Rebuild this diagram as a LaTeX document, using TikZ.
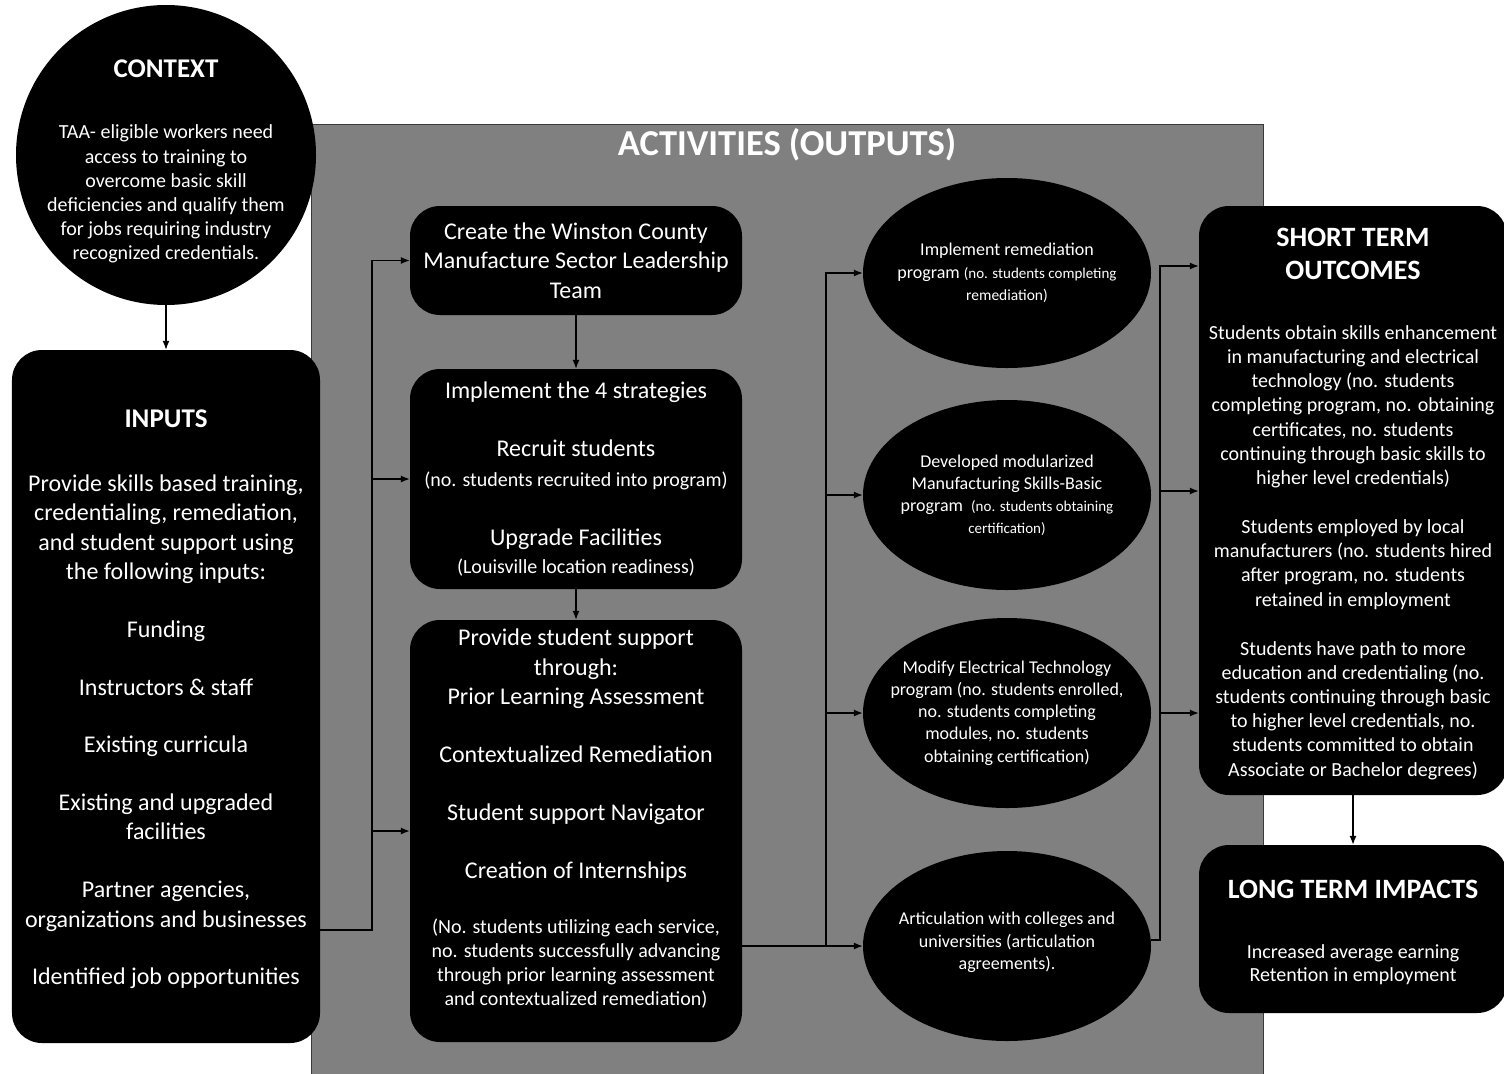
\documentclass[tikz,border=0pt]{standalone}
\usepackage{fontspec}
\setmainfont{Carlito}
\usetikzlibrary{shapes.geometric,arrows.meta,calc}
\definecolor{panelgray}{HTML}{808080}
\definecolor{paneledge}{HTML}{3A3A3A}
\newcommand{\myfs}[2]{\fontsize{#1bp}{#2bp}\selectfont}
\tikzset{
  blk/.style={rectangle, fill=black, text=white, rounded corners=30bp, align=center, inner sep=0pt},
  ell/.style={ellipse, fill=black, text=white, align=center, minimum width=288bp, minimum height=190bp, inner xsep=-25bp, inner ysep=0pt, font=\myfs{18}{22.2}},
  arr/.style={-{Latex[length=9bp,width=7bp]}, line width=1.3bp, draw=black},
}
\begin{document}
\begin{tikzpicture}[x=1bp,y=-1bp]
\fill[white] (0,0) rectangle (1504,1073);
\useasboundingbox (0,0) rectangle (1504,1073);
% activities panel
\filldraw[fill=panelgray, draw=paneledge, line width=1bp] (311,124) rectangle (1263,1100);
\node[font=\bfseries\myfs{36.5}{42}, text=white] (title) at (787,145) {ACTIVITIES (OUTPUTS)};

% context
\node[circle, fill=black, text=white, minimum size=300bp, inner sep=-20bp, align=center, font=\myfs{20}{24.2}] (ctx) at (166,155)
{\mbox{}\\[7.2bp]
{\bfseries\myfs{27}{32}CONTEXT}\\[36.8bp]
TAA- eligible workers need\\ access to training to\\ overcome basic skill\\ deficiencies and qualify them\\ for jobs requiring industry\\ recognized credentials.};

% inputs
\node[blk, minimum width=308bp, minimum height=693bp, font=\myfs{24}{29.3}] (inp) at (166,696.5)
{\mbox{}\\[-5.9bp]
{\bfseries\myfs{27}{32}INPUTS}\\[34.7bp]
Provide skills based training,\\ credentialing, remediation,\\ and student support using\\ the following inputs:\\[28.5bp]
Funding\\[28.5bp]
Instructors \& staff\\[28.5bp]
Existing curricula\\[28.5bp]
Existing and upgraded\\ facilities\\[28.5bp]
Partner agencies,\\ organizations and businesses\\[28.5bp]
Identified job opportunities};

% activities column 1
\node[blk, minimum width=332bp, minimum height=109bp, font=\myfs{24}{29.3}] (A) at (576,260.5)
{Create the Winston County\\ Manufacture Sector Leadership\\ Team};
\node[blk, minimum width=332bp, minimum height=220bp, font=\myfs{24}{29.3}] (B) at (576,479)
{Implement the 4 strategies\\[28.7bp]
Recruit students\\ {\myfs{20}{24}(no. students recruited into program)}\\[29.7bp]
Upgrade Facilities\\[-1.3bp] {\myfs{20}{24}(Louisville location readiness)}};
\node[blk, minimum width=332bp, minimum height=422bp, font=\myfs{24}{29.3}] (C) at (576,831)
{Provide student support\\ through:\\ Prior Learning Assessment\\[28.7bp]
Contextualized Remediation\\[28.7bp]
Student support Navigator\\[28.7bp]
Creation of Internships\\[25.7bp]
{\myfs{20}{24}(No. students utilizing each service,}\\[-5.3bp]
{\myfs{20}{24}no. students successfully advancing}\\[-5.3bp]
{\myfs{20}{24}through prior learning assessment}\\[-5.3bp]
{\myfs{20}{24}and contextualized remediation)}\\[-1.8bp]\mbox{}};

% activities column 2
\node[ell] (E1) at (1007,273)
{Implement remediation\\ program {\myfs{15}{18}(no. students completing}\\ {\myfs{15.5}{18}remediation)}};
\node[ell] (E2) at (1007,495)
{Developed modularized\\ Manufacturing Skills-Basic\\ program\ \ {\myfs{15}{18}(no. students obtaining}\\[-1bp] {\myfs{15}{18}certification)}};
\node[ell] (E3) at (1007,713)
{Modify Electrical Technology\\ program (no. students enrolled,\\ no. students completing\\ modules, no. students\\ obtaining certification)};
\node[ell] (E4) at (1007,946)
{Articulation with colleges and\\ universities (articulation\\ agreements).\\[-12bp]\mbox{}};

% outcomes
\node[blk, minimum width=308bp, minimum height=589bp, font=\myfs{20}{24.2}] (STO) at (1353,500.5)
{\mbox{}\\[0.8bp]
{\bfseries\myfs{28}{33}SHORT TERM}\\[8.8bp]
{\bfseries\myfs{28}{33}OUTCOMES}\\[35.8bp]
Students obtain skills enhancement\\ in manufacturing and electrical\\ technology (no. students\\ completing program, no. obtaining\\ certificates, no. students\\ continuing through basic skills to\\ higher level credentials)\\[24.8bp]
Students employed by local\\ manufacturers (no. students hired\\ after program, no. students\\ retained in employment\\[24.8bp]
Students have path to more\\ education and credentialing (no.\\ students continuing through basic\\ to higher level credentials, no.\\ students committed to obtain\\ Associate or Bachelor degrees)};
\node[blk, minimum width=308bp, minimum height=168bp, font=\myfs{20}{24.2}] (LTI) at (1353,929)
{\mbox{}\\[0.8bp]
{\bfseries\myfs{28}{33}LONG TERM IMPACTS}\\[35.8bp]
Increased average earning\\[-1.2bp] Retention in employment};

% connectors
\coordinate (j1) at (372,930);
\coordinate (j2) at (826,946);
\coordinate (k1) at (1160,266);
\coordinate (k2) at (1160,491);
\coordinate (k3) at (1160,713);
\coordinate (k4) at (1160,940);
\draw[arr] (ctx.south) -- (inp.north);
\draw[arr] (inp.east |- j1) -- (j1) |- (A.west);
\draw[arr] (j1 |- B.west) -- (B.west);
\draw[arr] (j1 |- C.west) -- (C.west);
\draw[arr] (A.south) -- (B.north);
\draw[arr] (B.south) -- (C.north);
\draw[arr] (C.east |- j2) -- (E4.west);
\draw[arr] (j2) |- (E1.west);
\draw[arr] (j2 |- E2.west) -- (E2.west);
\draw[arr] (j2 |- E3.west) -- (E3.west);
\draw[arr] (E4.east |- k4) -- (k4) |- (STO.west |- k1);
\draw[arr] (k2) -- (STO.west |- k2);
\draw[arr] (k3) -- (STO.west |- k3);
\draw[arr] (STO.south) -- (LTI.north);
\end{tikzpicture}
\end{document}
